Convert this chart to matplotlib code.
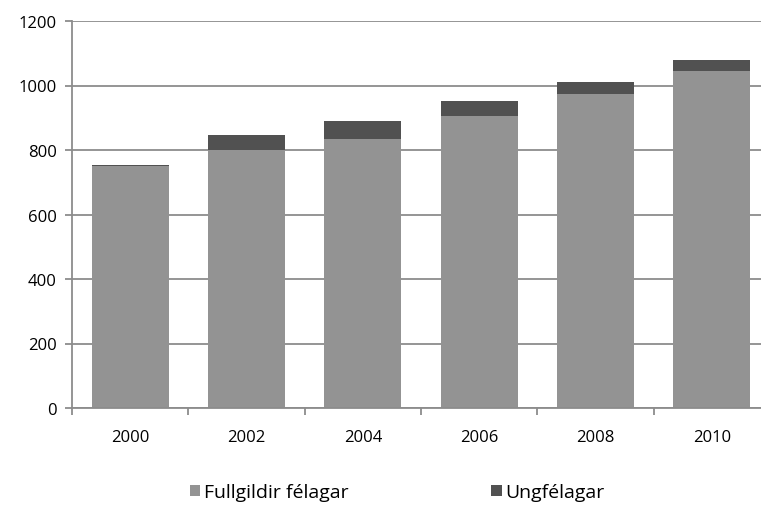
import numpy as np
import matplotlib.pyplot as plt

plt.rcParams['font.family'] = ['Open Sans', 'DejaVu Sans']

# gögn
years = ["2000", "2002", "2004", "2006", "2008", "2010"]
fullgildir = [751, 800, 834, 905, 973, 1045]
ungfelagar = [4, 47, 57, 46, 37, 33]

c_full = '#939393'
c_ung = '#515151'
c_grid = '#8c8c8c'

fig = plt.figure(figsize=(7.61, 5.06), dpi=100)
ax = fig.add_axes([72/761, 97/506, 698/761, 387/506])

x = np.arange(len(years))
ax.bar(x, fullgildir, width=0.66, color=c_full, label='Fullgildir félagar', zorder=2)
ax.bar(x, ungfelagar, width=0.66, bottom=fullgildir, color=c_ung, label='Ungfélagar', zorder=2)

ax.set_xlim(-0.5, len(years) - 0.5)
ax.set_ylim(0, 1200)
ax.set_yticks(range(0, 1201, 200))
ax.yaxis.grid(True, color=c_grid, linewidth=1.3, zorder=1)

# flokkaheiti miðjuð, strik á milli flokka
ax.set_xticks(x)
ax.set_xticklabels(years, fontsize=12)
ax.set_xticks(np.arange(-0.5, len(years), 1), minor=True)
ax.tick_params(axis='x', which='major', length=0, pad=15)
ax.tick_params(axis='x', which='minor', length=5, color=c_grid, width=1.3)
ax.tick_params(axis='y', length=5, color=c_grid, width=1.3, labelsize=12, pad=6)

for s in ['top', 'right']:
    ax.spines[s].set_visible(False)
for s in ['left', 'bottom']:
    ax.spines[s].set_color(c_grid)
    ax.spines[s].set_linewidth(1.3)

# titill sem er að mestu utan myndar (aðeins lágstafaleggir sjást)
fig.text(0.025, 1.017, "Fjöldi félaga í Verkfræðingafélaginu", fontsize=24,
         fontweight='bold', ha='left', va='baseline')

fig.legend(loc='center', bbox_to_anchor=(0.522, 0.025), ncol=2, frameon=False,
           fontsize=14, handlelength=0.55, handleheight=0.55, handletextpad=0.2,
           columnspacing=7.3)

fig.savefig('out.png', dpi=100)
